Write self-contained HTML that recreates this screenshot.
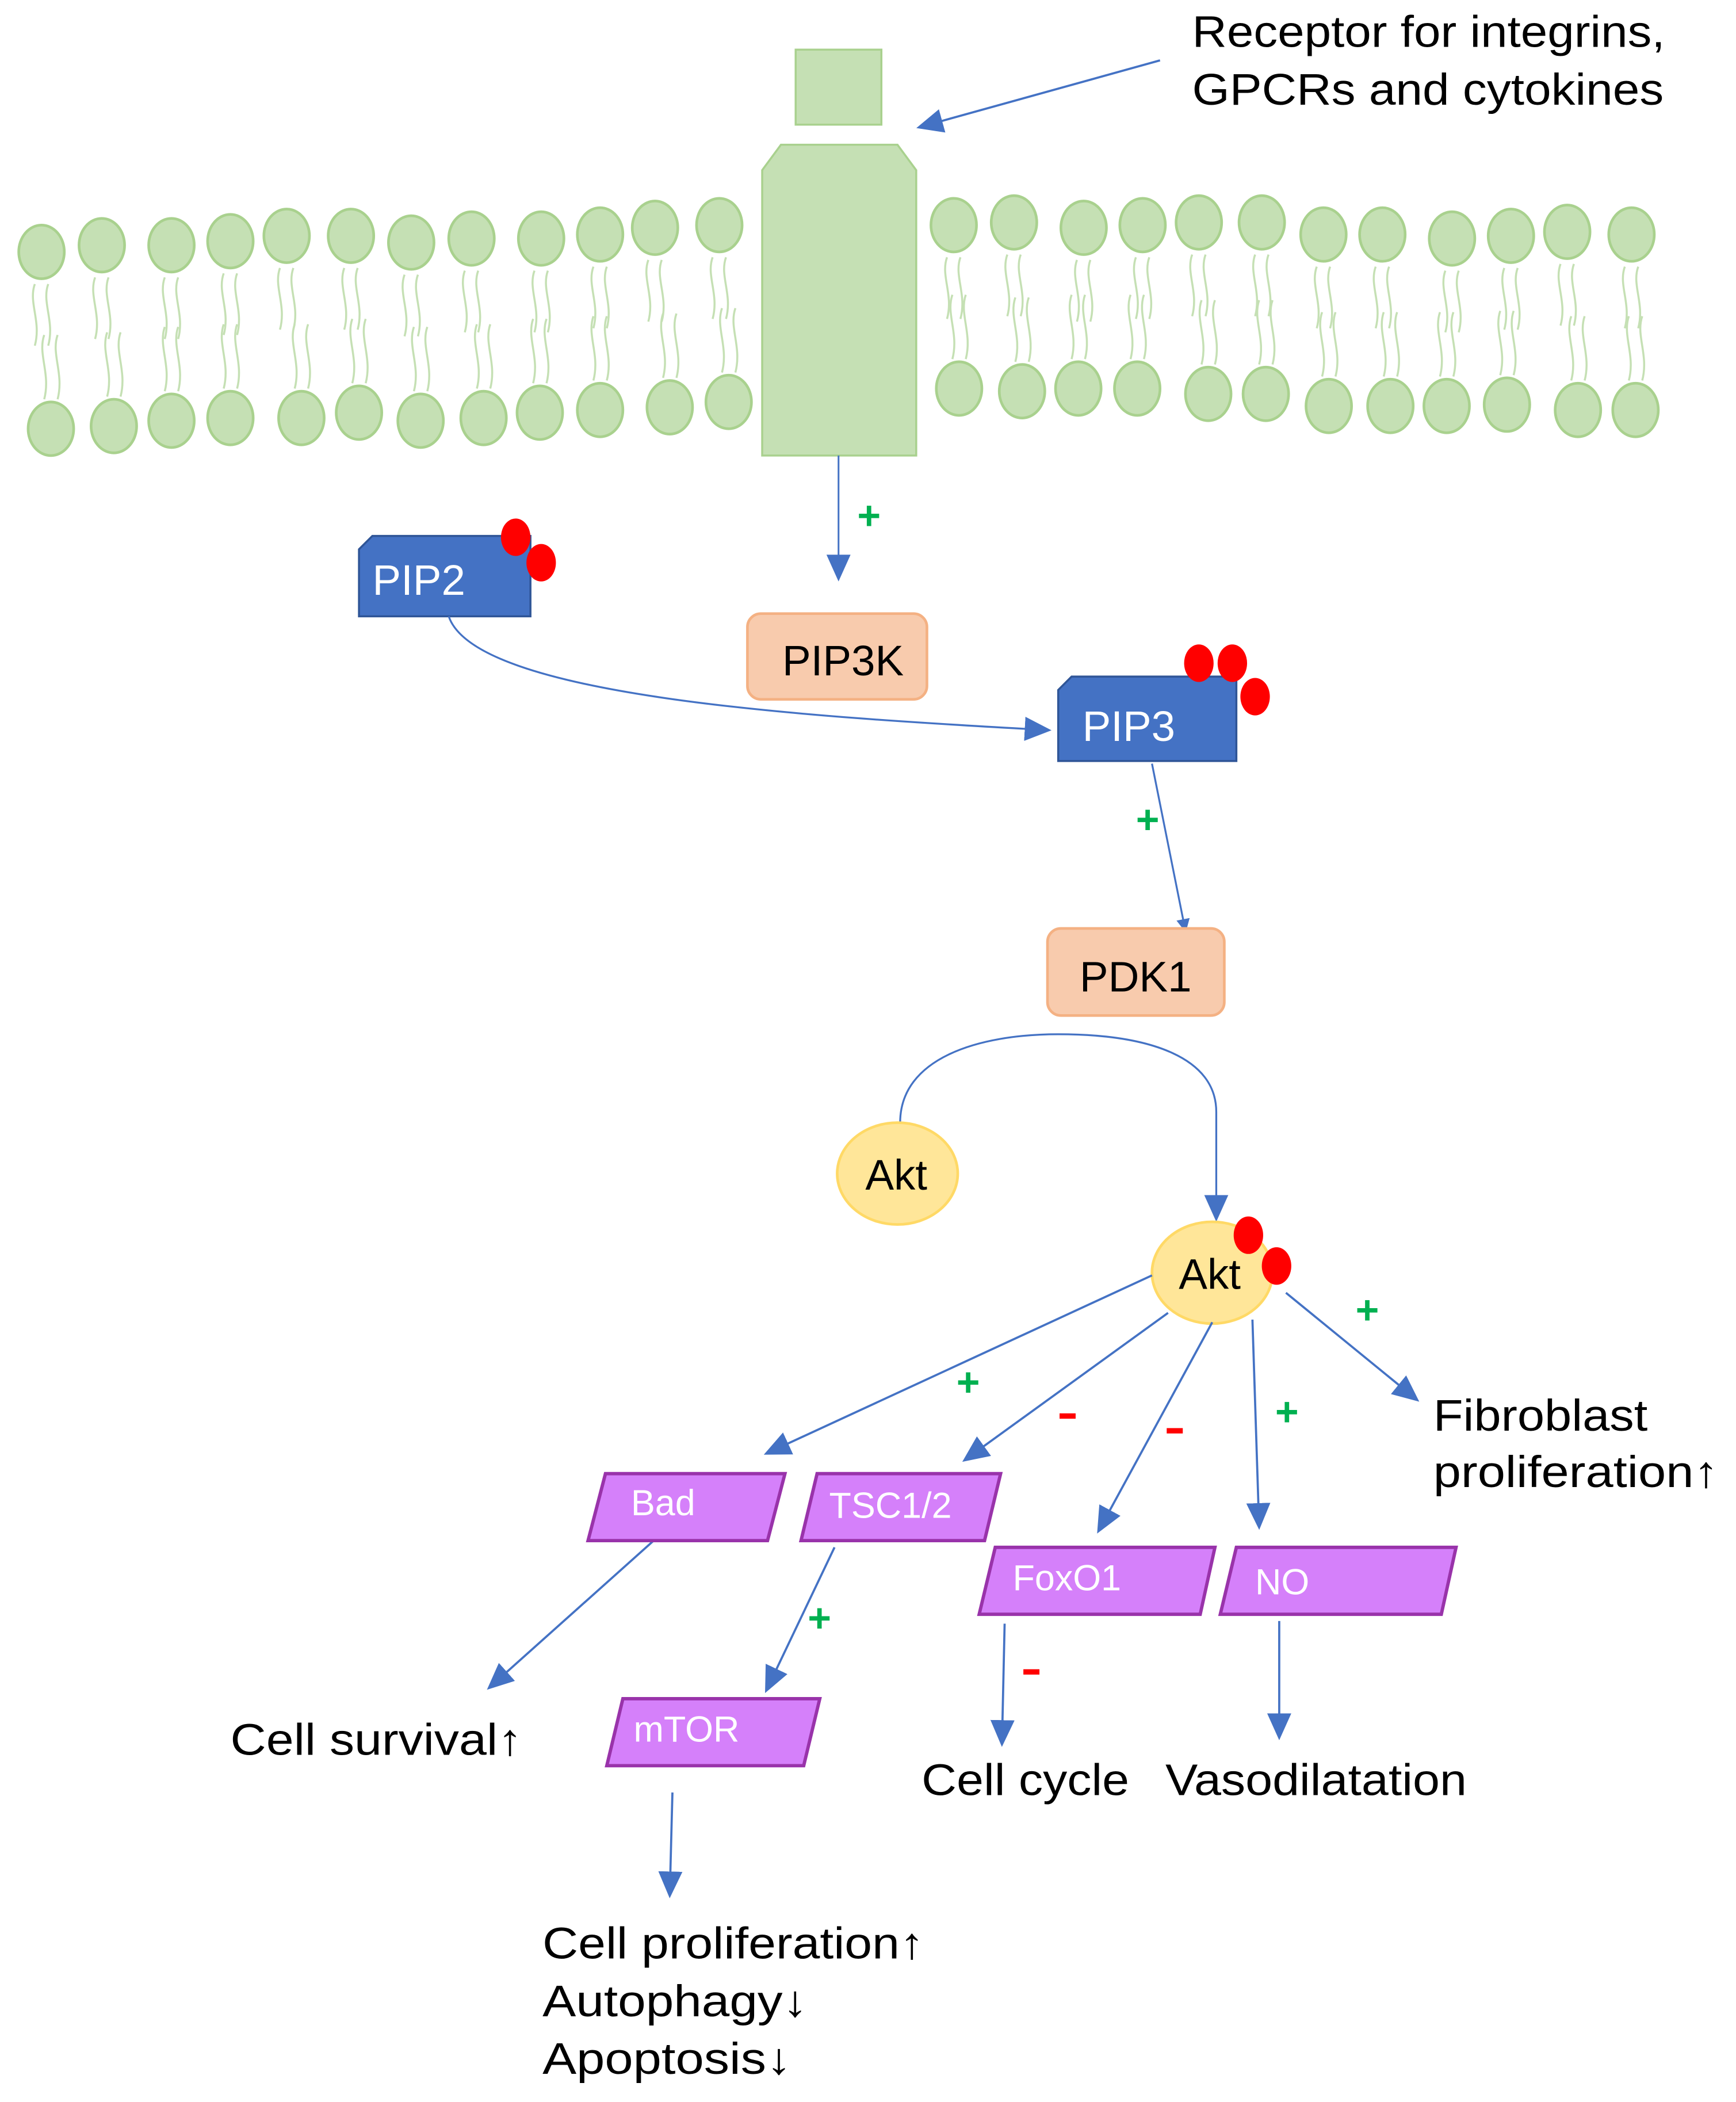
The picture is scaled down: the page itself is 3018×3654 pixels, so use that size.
<!DOCTYPE html>
<html><head><meta charset="utf-8"><style>
html,body{margin:0;padding:0;background:#fff}
svg{display:block}
text{font-family:"Liberation Sans",Arial,sans-serif}
</style></head><body>
<svg id="s" xmlns="http://www.w3.org/2000/svg" width="3018" height="3654" viewBox="0 0 1296 1569">
<defs>
<marker id="a" markerWidth="10" markerHeight="10" refX="9" refY="5" orient="auto" markerUnits="userSpaceOnUse" viewBox="0 0 10 10"><path d="M0,0 L10,5 L0,10 z" fill="#4472c4"/></marker>
<marker id="b" markerWidth="20" markerHeight="18" refX="18" refY="9" orient="auto" markerUnits="userSpaceOnUse" viewBox="0 0 20 18"><path d="M0,0 L20,9 L0,18 z" fill="#4472c4"/></marker>
</defs>
<g id="lip"></g>
<rect x="594" y="37" width="64" height="56" fill="#c5e0b4" stroke="#a9d18e" stroke-width="1.5"/>
<path d="M583,108 L670,108 L684,127 L684,340 L569,340 L569,127 Z" fill="#c5e0b4" stroke="#a9d18e" stroke-width="1.5"/>
<line x1="866" y1="45" x2="686" y2="95" stroke="#4472c4" stroke-width="1.6" marker-end="url(#b)"/>
<text x="890" y="35" font-size="33" textLength="353" lengthAdjust="spacingAndGlyphs">Receptor for integrins,</text>
<text x="890" y="78" font-size="33" textLength="352" lengthAdjust="spacingAndGlyphs">GPCRs and cytokines</text>
<line x1="626" y1="340" x2="626" y2="432" stroke="#4472c4" stroke-width="1.3" marker-end="url(#b)"/>
<g fill="#00b050" font-size="30" font-weight="bold">
<text x="640" y="395">+</text><text x="848" y="622">+</text><text x="714" y="1042">+</text><text x="1012" y="988">+</text><text x="952" y="1064">+</text><text x="603" y="1218">+</text>
</g>
<g fill="#ff0000"><rect x="791" y="1055" width="12" height="4"/><rect x="871" y="1066" width="12" height="4"/><rect x="764" y="1246" width="12" height="4"/></g>
<path d="M278,400 L396,400 L396,460 L268,460 L268,410 Z" fill="#4472c4" stroke="#2f5597" stroke-width="1.5"/>
<text x="278" y="444" font-size="32" fill="#fff">PIP2</text>
<ellipse cx="385" cy="401" rx="11" ry="14" fill="#f00"/><ellipse cx="404" cy="420" rx="11" ry="14" fill="#f00"/>
<rect x="558" y="458" width="134" height="64" rx="10" fill="#f8cbad" stroke="#f4b183" stroke-width="2"/>
<text x="584" y="504" font-size="32">PIP3K</text>
<path d="M335,460 C355,520 600,535 783,545" fill="none" stroke="#4472c4" stroke-width="1.4" marker-end="url(#b)"/>
<path d="M800,505 L923,505 L923,568 L790,568 L790,515 Z" fill="#4472c4" stroke="#2f5597" stroke-width="1.5"/>
<text x="808" y="553" font-size="32" fill="#fff">PIP3</text>
<ellipse cx="895" cy="495" rx="11" ry="14" fill="#f00"/><ellipse cx="920" cy="495" rx="11" ry="14" fill="#f00"/><ellipse cx="937" cy="520" rx="11" ry="14" fill="#f00"/>
<line x1="860" y1="570" x2="885" y2="695" stroke="#4472c4" stroke-width="1.4" marker-end="url(#a)"/>
<rect x="782" y="693" width="132" height="65" rx="10" fill="#f8cbad" stroke="#f4b183" stroke-width="2"/>
<text x="806" y="740" font-size="32">PDK1</text>
<path d="M672,838 C672,790 730,772 790,772 C860,772 908,790 908,830 L908,910" fill="none" stroke="#4472c4" stroke-width="1.4" marker-end="url(#b)"/>
<ellipse cx="670" cy="876" rx="45" ry="38" fill="#ffe699" stroke="#ffd966" stroke-width="2"/>
<text x="646" y="888" font-size="32">Akt</text>
<ellipse cx="905" cy="950" rx="45" ry="38" fill="#ffe699" stroke="#ffd966" stroke-width="2"/>
<text x="880" y="962" font-size="32">Akt</text>
<ellipse cx="932" cy="922" rx="11" ry="14" fill="#f00"/><ellipse cx="953" cy="945" rx="11" ry="14" fill="#f00"/>
<g stroke="#4472c4" stroke-width="1.6" fill="none" marker-end="url(#b)">
<line x1="860" y1="952" x2="572" y2="1085"/>
<line x1="872" y1="980" x2="720" y2="1090"/>
<line x1="905" y1="987" x2="820" y2="1143"/>
<line x1="935" y1="985" x2="940" y2="1140"/>
<line x1="960" y1="965" x2="1058" y2="1045"/>
<line x1="488" y1="1150" x2="365" y2="1260"/>
<line x1="623" y1="1155" x2="572" y2="1262"/>
<line x1="502" y1="1338" x2="500" y2="1415"/>
<line x1="750" y1="1212" x2="748" y2="1302"/>
<line x1="955" y1="1210" x2="955" y2="1297"/>
</g>
<g fill="#d580fa" stroke="#9933aa" stroke-width="2.5">
<polygon points="452,1100 586,1100 573,1150 439,1150"/>
<polygon points="610,1100 747,1100 735,1150 598,1150"/>
<polygon points="743,1155 907,1155 896,1205 731,1205"/>
<polygon points="923,1155 1087,1155 1076,1205 911,1205"/>
<polygon points="465,1268 612,1268 600,1318 453,1318"/>
</g>
<g fill="#fff" font-size="27">
<text x="471" y="1131">Bad</text><text x="619" y="1133">TSC1/2</text><text x="756" y="1187">FoxO1</text><text x="937" y="1190">NO</text><text x="473" y="1300">mTOR</text>
</g>
<g font-size="33" lengthAdjust="spacingAndGlyphs">
<text x="1070" y="1068" textLength="160" lengthAdjust="spacingAndGlyphs">Fibroblast</text>
<text x="1070" y="1110" textLength="213" lengthAdjust="spacingAndGlyphs">proliferation↑</text>
<text x="172" y="1310" textLength="218" lengthAdjust="spacingAndGlyphs">Cell survival↑</text>
<text x="688" y="1340" textLength="155" lengthAdjust="spacingAndGlyphs">Cell cycle</text>
<text x="870" y="1340" textLength="225" lengthAdjust="spacingAndGlyphs">Vasodilatation</text>
<text x="405" y="1462" textLength="285" lengthAdjust="spacingAndGlyphs">Cell proliferation↑</text>
<text x="405" y="1505" textLength="198" lengthAdjust="spacingAndGlyphs">Autophagy↓</text>
<text x="405" y="1548" textLength="186" lengthAdjust="spacingAndGlyphs">Apoptosis↓</text>
</g>
</svg>
<script>
var g=document.getElementById('lip'),h='';
var tx=[31,76,128,172,214,262,307,352,404,448,489,537,712,757,809,853,895,942,988,1032,1084,1128,1170,1218];
var ty=[188,183,183,180,176,176,181,178,178,175,170,168,168,166,170,168,166,166,175,175,178,176,173,175];
var bx=[38,85,128,172,225,268,314,361,403,448,500,544,716,763,805,849,902,945,992,1038,1080,1125,1178,1221];
var by=[320,318,314,312,312,308,314,312,308,306,304,300,290,292,290,290,294,294,303,303,303,302,306,306];
function tail(x,y0,y1){var s='';for(var d=-5;d<=5;d+=10){var xx=x+d;s+='<path d="M'+xx+','+y0+' C'+(xx-5)+','+(y0+(y1-y0)*0.3)+' '+(xx+5)+','+(y0+(y1-y0)*0.6)+' '+xx+','+y1+'" fill="none" stroke="#c5e0b4" stroke-width="1.5"/>';}return s;}
for(var i=0;i<24;i++){
 h+=tail(tx[i],ty[i]+24,ty[i]+70);
 h+=tail(bx[i],by[i]-70,by[i]-22);
 h+='<ellipse cx="'+tx[i]+'" cy="'+ty[i]+'" rx="17" ry="20" fill="#c5e0b4" stroke="#a9d18e" stroke-width="2"/>';
 h+='<ellipse cx="'+bx[i]+'" cy="'+by[i]+'" rx="17" ry="20" fill="#c5e0b4" stroke="#a9d18e" stroke-width="2"/>';
}
g.innerHTML=h;
</script>
</body></html>
